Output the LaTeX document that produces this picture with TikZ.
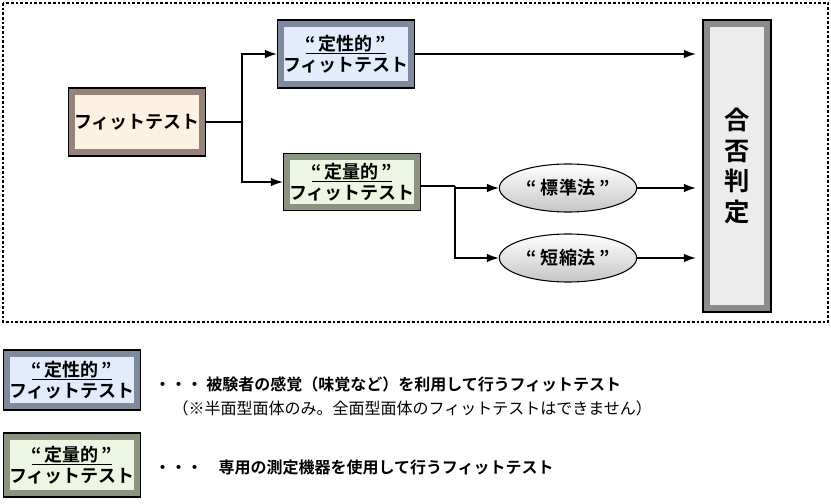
\documentclass[tikz,border=0pt]{standalone}
\usepackage{fontspec}
\setmainfont{Noto Sans CJK JP}[BoldFont={* Bold}]
\usetikzlibrary{shapes.geometric,arrows.meta}
\definecolor{testlight}{RGB}{253,241,226}
\definecolor{testdark}{RGB}{150,132,122}
\definecolor{qualight}{RGB}{226,236,252}
\definecolor{quadark}{RGB}{128,138,158}
\definecolor{quanlight}{RGB}{236,246,226}
\definecolor{quandark}{RGB}{138,148,128}
\definecolor{judgelight}{RGB}{236,236,236}
\definecolor{judgedark}{RGB}{140,140,140}
\tikzset{
  bevel/.style 2 args={draw=black, thick, fill=#2, inner sep=0pt, align=center,
    font=\bfseries\fontsize{13.5}{16}\selectfont,
    path picture={\fill[#1] ([shift={(5pt,-5pt)}]path picture bounding box.north west)
      rectangle ([shift={(-5pt,5pt)}]path picture bounding box.south east);}},
  oval/.style={ellipse, draw=black, thick, top color=white, bottom color=gray!45,
    minimum width=103pt, minimum height=36pt, font=\bfseries\fontsize{13.5}{16}\selectfont},
  flow/.style={thick, -{Latex[length=9pt,width=6.5pt]}}
}
\newcommand{\heading}[1]{\underline{“\,#1\,”}}
\begin{document}
\begin{tikzpicture}[x=0.75pt,y=-0.75pt]
  \useasboundingbox (0,0) rectangle (831,503);
  % Frame
  \draw[line width=2.2pt, dash pattern=on 2pt off 1.5pt] (3,3) rectangle (828,322);
  % Boxes
  \node[bevel={testlight}{testdark}, minimum width=103pt, minimum height=51pt] (fit) at (137,122) {フィットテスト};
  \node[bevel={qualight}{quadark}, minimum width=103pt, minimum height=51pt] (qual) at (346,54) {\heading{定性的}\\フィットテスト};
  \node[bevel={quanlight}{quandark}, minimum width=103pt, minimum height=43pt] (quan) at (352,182) {\heading{定量的}\\フィットテスト};
  \node[bevel={judgelight}{judgedark}, minimum width=51pt, minimum height=219pt,
    font=\bfseries\fontsize{19}{23}\selectfont] (judge) at (737,166) {合\\否\\判\\定};
  \node[oval] (std) at (568,188) {“ 標準法 ”};
  \node[oval] (short) at (568,258) {“ 短縮法 ”};
  % Connectors
  \coordinate (split) at (242,122);
  \coordinate (split2) at (455,186);
  \draw[thick] (fit.east) -- (split);
  \draw[flow] (split) |- (qual.west);
  \draw[flow] (split) |- (quan.west);
  \draw[thick] (quan.east |- split2) -- (split2);
  \draw[flow] (split2) |- (std.west);
  \draw[flow] (split2) |- (short.west);
  \draw[flow] (qual.east) -- ([xshift=-5pt]qual.east -| judge.west);
  \draw[flow] (std.east) -- ([xshift=-5pt]std.east -| judge.west);
  \draw[flow] (short.east) -- ([xshift=-5pt]short.east -| judge.west);
  % Legend
  \node[bevel={qualight}{quadark}, minimum width=103pt, minimum height=45pt] (legqual) at (72,380) {\heading{定性的}\\フィットテスト};
  \node[bevel={quanlight}{quandark}, minimum width=103pt, minimum height=48pt] (legquan) at (72,465) {\heading{定量的}\\フィットテスト};
  \node[anchor=west, font=\bfseries\fontsize{12}{14}\selectfont] (legqualtext) at (150,384) {・・・ 被験者の感覚（味覚など）を利用して行うフィットテスト};
  \node[anchor=west, font=\fontsize{12}{14}\selectfont] (legnote) at (168,408) {（※半面型面体のみ。全面型面体のフィットテストはできません）};
  \node[anchor=west, font=\bfseries\fontsize{12}{14}\selectfont] (legquantext) at (150,467) {・・・　専用の測定機器を使用して行うフィットテスト};
\end{tikzpicture}
\end{document}
